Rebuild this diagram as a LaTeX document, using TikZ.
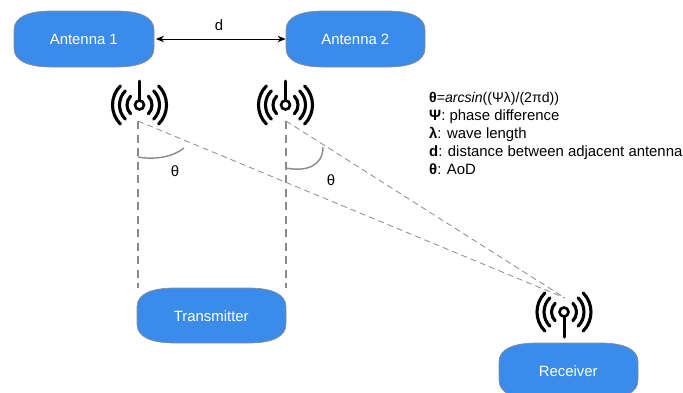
\documentclass[tikz,border=0pt]{standalone}
\usepackage{fontspec}
\setmainfont{Liberation Sans}
\usetikzlibrary{arrows.meta}
\definecolor{boxblue}{HTML}{3B8BEB}
\definecolor{boxedge}{HTML}{8C8C8C}
\definecolor{guide}{HTML}{8A8A8A}
\tikzset{
  blobshape/.style={fill=boxblue,draw=boxedge,line width=0.7pt},
  blobtext/.style={text=white,font=\fontsize{14.9}{16}\selectfont,inner sep=0pt},
  plain/.style={text=black,font=\fontsize{14.9}{16}\selectfont,inner sep=0pt},
  wave/.style={line width=3.1pt,line cap=round,black},
  mast/.style={line width=3pt,line cap=round,black},
  ring/.style={line width=2.6pt,black,fill=white},
  heavydash/.style={draw=guide,line width=1.6pt,dash pattern=on 8pt off 5.5pt},
  thindash/.style={draw=guide,line width=0.8pt,dash pattern=on 6pt off 4pt},
  anglearc/.style={draw=guide,line width=1.4pt},
  dimline/.style={line width=0.9pt,black,{Stealth[length=8pt,width=6.5pt]}-{Stealth[length=8pt,width=6.5pt]}}
}
% #1 name, #2 left, #3 top, #4 right, #5 bottom, #6 text
\newcommand{\blob}[6]{%
  \path[blobshape] (#2,#3+19) .. controls (#2,#3+6) and (#2+14,#3) .. (#2+38,#3)
    -- (#4-38,#3) .. controls (#4-14,#3) and (#4,#3+6) .. (#4,#3+19)
    -- (#4,#5-19) .. controls (#4,#5-6) and (#4-14,#5) .. (#4-38,#5)
    -- (#2+38,#5) .. controls (#2+14,#5) and (#2,#5-6) .. (#2,#5-19) -- cycle;
  \node[blobtext,minimum width={(#4-#2)*1pt},minimum height={(#5-#3)*1pt}] (#1) at ({(#2+#4)/2-0.2},{(#3+#5)/2+0.5}) {#6};
}
\newcommand{\waves}[1]{%
  \foreach \r in {12.5,20,27}{
    \draw[wave] ([shift={(-45:\r pt)}]#1) arc[start angle=-45,end angle=45,radius=\r pt];
    \draw[wave] ([shift={(135:\r pt)}]#1) arc[start angle=135,end angle=225,radius=\r pt];
  }
}
\begin{document}
\begin{tikzpicture}[x=1pt,y=-1pt]
\useasboundingbox (0,0) rectangle (683,392);
\clip (0,0) rectangle (683,392);
\blob{ant1}{14}{11}{154}{67}{Antenna 1}
\blob{ant2}{286}{11}{425}{67}{Antenna 2}
\blob{tx}{137}{288}{286}{343}{Transmitter}
\blob{rx}{499}{343}{638}{399}{Receiver}
\draw[dimline] (ant1.east) ++(2,-0.5) coordinate (da) (ant2.west) ++(0,-0.5) coordinate (db) (da) -- (db);
\node[plain] (dlabel) at (219,25) {d};
% icons
\coordinate (c1) at (139.5,105);
\coordinate (c2) at (285.5,105);
\coordinate (c3) at (564,312);
\coordinate (t1) at (139.5,81);
\coordinate (t2) at (285.5,81);
\coordinate (t3) at (564,337);
\waves{c1}\waves{c2}\waves{c3}
\draw[mast] (c1) -- (t1);
\draw[mast] (c2) -- (t2);
\draw[mast] (c3) -- (t3);
\draw[ring] (c1) circle[radius=4.5pt];
\draw[ring] (c2) circle[radius=4.5pt];
\draw[ring] (c3) circle[radius=4.5pt];
% guides
\coordinate (o1) at (138,121);
\coordinate (o2) at (286,121);
\coordinate (r) at (565,298);
\draw[heavydash] (o1) -- (o1|-tx.north);
\draw[heavydash] (o2) -- (o2|-tx.north);
\draw[thindash] (o1) -- (r);
\draw[thindash] (o2) -- (r);
\coordinate (a1s) at (138,157);
\coordinate (a1e) at (184,148);
\coordinate (a2s) at (286,168);
\coordinate (a2e) at (323,147);
\draw[anglearc] (a1s) .. controls (155,160) and (173,157) .. (a1e);
\draw[anglearc] (a2s) .. controls (306,172) and (323,166) .. (a2e);
\node[plain] (th1) at (175,171) {θ};
\node[plain] (th2) at (331,180) {θ};
\node[plain,anchor=north west,align=left,font=\fontsize{14.9}{18}\selectfont] (legend) at (429,92.5)
 {{\fontsize{14.1}{18}\selectfont\textbf{θ}=\textit{arcsin}((Ψλ)/(2πd))}\\
  \textbf{Ψ}: phase difference\\
  \textbf{λ}: wave length\\
  \textbf{d}: distance between adjacent antenna\\
  \textbf{θ}: AoD};
\end{tikzpicture}
\end{document}
